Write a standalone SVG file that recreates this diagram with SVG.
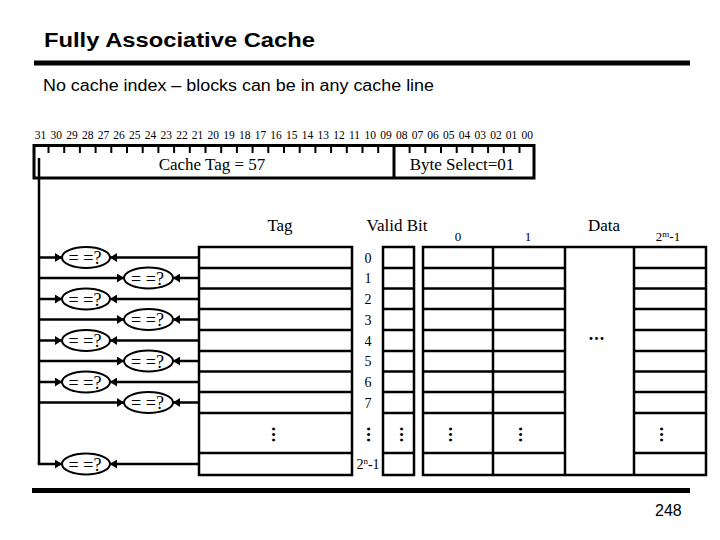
<svg xmlns="http://www.w3.org/2000/svg" width="720" height="540" viewBox="0 0 720 540">
<defs>
<style>
.ln{stroke:#000;stroke-width:2.5;fill:none}
.bar{stroke:#000;stroke-width:5;fill:none}
.s{font-family:"Liberation Serif","Times New Roman",serif;fill:#000}
.a{font-family:"Liberation Sans",Arial,sans-serif;fill:#000}
.bits text{font-size:11.5px;text-anchor:middle}
.idx text{font-size:14px;text-anchor:middle}
.cmp ellipse{fill:#fff;stroke:#000;stroke-width:2}
.cmp text{font-size:18px;text-anchor:middle}
.dots{font-size:18px;font-weight:bold;text-anchor:middle;letter-spacing:1px}
.hd{font-size:17px;text-anchor:middle}
.hs{font-size:13px;text-anchor:middle}
</style>
<marker id="ah" markerWidth="8" markerHeight="9" refX="7" refY="4.5" orient="auto" markerUnits="userSpaceOnUse">
<path d="M0,0 L7,4.5 L0,9 Z" fill="#000"/>
</marker>
</defs>
<rect width="720" height="540" fill="#fff"/>

<g id="title">
<text class="a" x="44" y="47" font-size="20" font-weight="bold" textLength="271" lengthAdjust="spacingAndGlyphs">Fully Associative Cache</text>
<line class="bar" x1="34" y1="63" x2="690" y2="63"/>
<text class="a" x="43" y="91" font-size="16" textLength="391" lengthAdjust="spacingAndGlyphs">No cache index – blocks can be in any cache line</text>
</g>

<g id="bit-numbers" class="s bits">
<text x="40.6" y="139">31</text><text x="56.3" y="139">30</text><text x="72.0" y="139">29</text><text x="87.7" y="139">28</text>
<text x="103.4" y="139">27</text><text x="119.1" y="139">26</text><text x="134.8" y="139">25</text><text x="150.5" y="139">24</text>
<text x="166.2" y="139">23</text><text x="181.9" y="139">22</text><text x="197.6" y="139">21</text><text x="213.3" y="139">20</text>
<text x="229.0" y="139">19</text><text x="244.7" y="139">18</text><text x="260.4" y="139">17</text><text x="276.1" y="139">16</text>
<text x="291.8" y="139">15</text><text x="307.5" y="139">14</text><text x="323.2" y="139">13</text><text x="338.9" y="139">12</text>
<text x="354.6" y="139">11</text><text x="370.3" y="139">10</text><text x="386.0" y="139">09</text><text x="401.7" y="139">08</text>
<text x="417.4" y="139">07</text><text x="433.1" y="139">06</text><text x="448.8" y="139">05</text><text x="464.5" y="139">04</text>
<text x="480.2" y="139">03</text><text x="495.9" y="139">02</text><text x="511.6" y="139">01</text><text x="527.3" y="139">00</text>
</g>

<g id="address">
<rect x="34" y="145.5" width="500" height="32.5" fill="none" stroke="#000" stroke-width="3"/>
<line x1="394" y1="145.5" x2="394" y2="178" stroke="#000" stroke-width="3"/>
<path stroke="#000" stroke-width="2" d="M48.5,145v8M64.2,145v8M79.9,145v8M95.6,145v8M111.3,145v8M127,145v8M142.7,145v8M158.4,145v8M174.1,145v8M189.8,145v8M205.5,145v8M221.2,145v8M236.9,145v8M252.6,145v8M268.3,145v8M284,145v8M299.7,145v8M315.4,145v8M331.1,145v8M346.8,145v8M362.5,145v8M378.2,145v8M409.6,145v8M425.3,145v8M441,145v8M456.7,145v8M472.4,145v8M488.1,145v8M503.8,145v8M519.5,145v8"/>
<text class="s" x="212" y="170" font-size="17" text-anchor="middle">Cache Tag = 57</text>
<text class="s" x="462" y="170" font-size="17" text-anchor="middle">Byte Select=01</text>
</g>

<g id="headers" class="s">
<text class="hd" x="280" y="231">Tag</text>
<text class="hd" x="397" y="231">Valid Bit</text>
<text class="hd" x="604" y="231">Data</text>
<text class="hs" x="458" y="241">0</text>
<text class="hs" x="528" y="241">1</text>
<text class="hs" x="668" y="241">2<tspan font-size="9" dy="-4">m</tspan><tspan dy="4">-1</tspan></text>
</g>

<g id="tag-array">
<rect class="ln" x="199" y="247" width="153" height="228"/>
<path class="ln" d="M199,268H352M199,288.5H352M199,309H352M199,330H352M199,351H352M199,371.5H352M199,392H352M199,413H352M199,453H352"/>
<text class="s dots" transform="rotate(90 271.5 435)" x="271.5" y="435">...</text>
</g>

<g id="index" class="s idx">
<text x="368" y="262.5">0</text><text x="368" y="283">1</text><text x="368" y="304">2</text><text x="368" y="324.5">3</text>
<text x="368" y="345.5">4</text><text x="368" y="366">5</text><text x="368" y="387">6</text><text x="368" y="407.5">7</text>
<text x="368" y="469">2<tspan font-size="9" dy="-5">n</tspan><tspan dy="5">-1</tspan></text>
</g>
<text class="s dots" transform="rotate(90 366.5 435)" x="366.5" y="435">...</text>

<g id="valid-array">
<rect class="ln" x="383" y="247" width="31" height="228"/>
<path class="ln" d="M383,268H414M383,288.5H414M383,309H414M383,330H414M383,351H414M383,371.5H414M383,392H414M383,413H414M383,453H414"/>
<text class="s dots" transform="rotate(90 399.5 435)" x="399.5" y="435">...</text>
</g>

<g id="data-array">
<rect class="ln" x="423" y="247" width="283" height="228"/>
<path class="ln" d="M493,247V475M565,247V475M634,247V475"/>
<path class="ln" d="M423,268H565M423,288.5H565M423,309H565M423,330H565M423,351H565M423,371.5H565M423,392H565M423,413H565M423,453H565"/>
<path class="ln" d="M634,268H706M634,288.5H706M634,309H706M634,330H706M634,351H706M634,371.5H706M634,392H706M634,413H706M634,453H706"/>
<text class="s dots" x="597" y="340">...</text>
<text class="s dots" transform="rotate(90 448.5 435)" x="448.5" y="435">...</text>
<text class="s dots" transform="rotate(90 518.5 435)" x="518.5" y="435">...</text>
<text class="s dots" transform="rotate(90 659.5 435)" x="659.5" y="435">...</text>
</g>

<g id="connectors" stroke="#000" stroke-width="2.5" fill="none">
<path d="M39,158V464"/>
<line x1="39" y1="257.5" x2="62" y2="257.5" marker-end="url(#ah)"/>
<line x1="199" y1="257.5" x2="110" y2="257.5" marker-end="url(#ah)"/>
<line x1="39" y1="278" x2="124" y2="278" marker-end="url(#ah)"/>
<line x1="199" y1="278" x2="173" y2="278" marker-end="url(#ah)"/>
<line x1="39" y1="299" x2="62" y2="299" marker-end="url(#ah)"/>
<line x1="199" y1="299" x2="110" y2="299" marker-end="url(#ah)"/>
<line x1="39" y1="319.5" x2="124" y2="319.5" marker-end="url(#ah)"/>
<line x1="199" y1="319.5" x2="173" y2="319.5" marker-end="url(#ah)"/>
<line x1="39" y1="340.5" x2="62" y2="340.5" marker-end="url(#ah)"/>
<line x1="199" y1="340.5" x2="110" y2="340.5" marker-end="url(#ah)"/>
<line x1="39" y1="361" x2="124" y2="361" marker-end="url(#ah)"/>
<line x1="199" y1="361" x2="173" y2="361" marker-end="url(#ah)"/>
<line x1="39" y1="382" x2="62" y2="382" marker-end="url(#ah)"/>
<line x1="199" y1="382" x2="110" y2="382" marker-end="url(#ah)"/>
<line x1="39" y1="402.5" x2="124" y2="402.5" marker-end="url(#ah)"/>
<line x1="199" y1="402.5" x2="173" y2="402.5" marker-end="url(#ah)"/>
<line x1="37.75" y1="464" x2="62" y2="464" marker-end="url(#ah)"/>
<line x1="199" y1="464" x2="110" y2="464" marker-end="url(#ah)"/>
</g>

<g id="cmp0" class="cmp"><ellipse cx="86" cy="257.5" rx="24" ry="10.5"/><text class="s" x="85" y="264">= =?</text></g>
<g id="cmp1" class="cmp"><ellipse cx="148.5" cy="278" rx="24.5" ry="10.5"/><text class="s" x="147.5" y="284.5">= =?</text></g>
<g id="cmp2" class="cmp"><ellipse cx="86" cy="299" rx="24" ry="10.5"/><text class="s" x="85" y="305.5">= =?</text></g>
<g id="cmp3" class="cmp"><ellipse cx="148.5" cy="319.5" rx="24.5" ry="10.5"/><text class="s" x="147.5" y="326">= =?</text></g>
<g id="cmp4" class="cmp"><ellipse cx="86" cy="340.5" rx="24" ry="10.5"/><text class="s" x="85" y="347">= =?</text></g>
<g id="cmp5" class="cmp"><ellipse cx="148.5" cy="361" rx="24.5" ry="10.5"/><text class="s" x="147.5" y="367.5">= =?</text></g>
<g id="cmp6" class="cmp"><ellipse cx="86" cy="382" rx="24" ry="10.5"/><text class="s" x="85" y="388.5">= =?</text></g>
<g id="cmp7" class="cmp"><ellipse cx="148.5" cy="402.5" rx="24.5" ry="10.5"/><text class="s" x="147.5" y="409">= =?</text></g>
<g id="cmpN" class="cmp"><ellipse cx="86" cy="464" rx="24" ry="10.5"/><text class="s" x="85" y="470.5">= =?</text></g>

<g id="footer">
<line class="bar" x1="32" y1="490.5" x2="690" y2="490.5"/>
<text class="a" x="655" y="516" font-size="16">248</text>
</g>
</svg>
